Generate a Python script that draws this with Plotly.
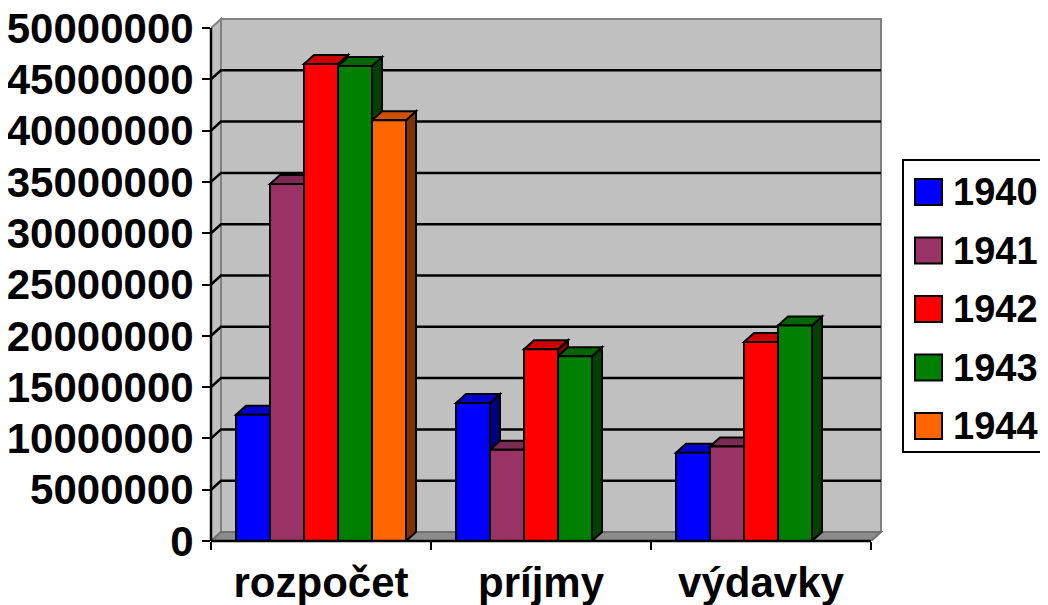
import plotly.graph_objects as go

# ---------------- data ----------------
categories = ["rozpočet", "príjmy", "výdavky"]
series_names = ["1940", "1941", "1942", "1943", "1944"]
v1940 = [12300000, 13450000, 8600000]
v1941 = [34800000, 8900000, 9200000]
v1942 = [46500000, 18700000, 19400000]
v1943 = [46300000, 18000000, 21000000]
v1944 = [41000000, None, None]
ytick_vals = [0, 5000000, 10000000, 15000000, 20000000, 25000000,
              30000000, 35000000, 40000000, 45000000, 50000000]
ytick_text = [str(v) for v in ytick_vals]

series_values = [v1940, v1941, v1942, v1943, v1944]

# ---------------- style ----------------
front_colors = ["#0000FF", "#993366", "#FF0000", "#008000", "#FF6600"]
top_colors = ["#0000CC", "#7A2952", "#CC0000", "#006600", "#CC5200"]
side_colors = ["#000080", "#4D1933", "#800000", "#004000", "#803300"]
FONT = "Liberation Sans, Arial, sans-serif"
FSIZE = 42
LEG_FSIZE = 38

OFF = 8             # page body margin
W, H = 1048 - OFF, 605 - OFF
L_PX = 211 - OFF          # front y-axis pixel x (figure coords)
BOTTOM_PX = 541 - OFF     # front x-axis pixel y (figure coords)
CAT_PX = 220        # pixels per category
YSPAN_PX = 513      # pixels for 0..50M
DX_PX, DY_PX = 10, 9   # 3D depth offset
PAD = 2

ymax_front = ytick_vals[-1]
ypx_per = YSPAN_PX / ymax_front
dxc = DX_PX / CAT_PX
dyv = DY_PX / ypx_per

x_range = [-0.5, len(categories) - 0.5 + (DX_PX + PAD) / CAT_PX]
y_range = [0, ymax_front + (DY_PX + PAD) / ypx_per]
plot_w = len(categories) * CAT_PX + DX_PX + PAD
plot_h = YSPAN_PX + DY_PX + PAD
margin_l = L_PX
margin_r = W - L_PX - plot_w
margin_b = H - BOTTOM_PX
margin_t = H - margin_b - plot_h

n = len(series_names)
bar_px = 34
bargap = 1 - n * bar_px / CAT_PX
bw = (1 - bargap) / n


def px2paper_x(px):
    # px given in screen (reference) pixels
    return (px - OFF - L_PX) / plot_w


def py2paper_y(py):
    return (BOTTOM_PX - (py - OFF)) / plot_h


def poly(pts):
    return "M " + " L ".join(f"{x},{y}" for x, y in pts) + " Z"


fig = go.Figure()
for k in range(n):
    fig.add_trace(go.Bar(
        x=list(range(len(categories))), y=series_values[k], name=series_names[k],
        marker=dict(color=front_colors[k], line=dict(color="black", width=2)),
        showlegend=False, hoverinfo="skip",
    ))

shapes = []
x0, x1 = -0.5, len(categories) - 0.5
# back wall
shapes.append(dict(type="path", xref="x", yref="y", layer="below",
                   path=poly([(x0 + dxc, dyv), (x1 + dxc, dyv),
                              (x1 + dxc, ymax_front + dyv), (x0 + dxc, ymax_front + dyv)]),
                   fillcolor="#C0C0C0", line=dict(color="#808080", width=2)))
# left wall
shapes.append(dict(type="path", xref="x", yref="y", layer="below",
                   path=poly([(x0, 0), (x0 + dxc, dyv), (x0 + dxc, ymax_front + dyv),
                              (x0, ymax_front)]),
                   fillcolor="#C0C0C0", line=dict(color="#808080", width=2)))
# floor
shapes.append(dict(type="path", xref="x", yref="y", layer="below",
                   path=poly([(x0, 0), (x1, 0), (x1 + dxc, dyv), (x0 + dxc, dyv)]),
                   fillcolor="#8C8C8C", line=dict(color="#707070", width=2)))
# gridlines on walls
for v in ytick_vals[1:-1]:
    shapes.append(dict(type="path", xref="x", yref="y", layer="below",
                       path=f"M {x0},{v} L {x0 + dxc},{v + dyv} L {x1 + dxc},{v + dyv}",
                       line=dict(color="black", width=2.5)))
# 3D faces of bars
for i in range(len(categories)):
    for k in range(n):
        h = series_values[k][i]
        if h is None:
            continue
        bl = i - 0.5 + bargap / 2 + k * bw
        br = bl + bw
        shapes.append(dict(type="path", xref="x", yref="y", layer="below",
                           path=poly([(br, 0), (br + dxc, dyv), (br + dxc, h + dyv), (br, h)]),
                           fillcolor=side_colors[k], line=dict(color="black", width=2)))
        shapes.append(dict(type="path", xref="x", yref="y", layer="below",
                           path=poly([(bl, h), (br, h), (br + dxc, h + dyv), (bl + dxc, h + dyv)]),
                           fillcolor=top_colors[k], line=dict(color="black", width=2)))

# front axis lines
top_front_paper = ymax_front * ypx_per / plot_h
right_front_paper = (len(categories) * CAT_PX) / plot_w
shapes.append(dict(type="line", xref="paper", yref="paper", layer="above",
                   x0=0, x1=0, y0=0, y1=top_front_paper, line=dict(color="black", width=2.5)))
shapes.append(dict(type="line", xref="paper", yref="paper", layer="above",
                   x0=0, x1=right_front_paper, y0=0, y1=0, line=dict(color="black", width=2.5)))

# manual legend
annotations = []
shapes.append(dict(type="rect", xref="paper", yref="paper", layer="above",
                   x0=px2paper_x(903), x1=px2paper_x(1043),
                   y0=py2paper_y(160), y1=py2paper_y(452),
                   line=dict(color="black", width=2), fillcolor="rgba(0,0,0,0)"))
for k in range(n):
    cy = 192 + 58.5 * k
    shapes.append(dict(type="rect", xref="paper", yref="paper", layer="above",
                       x0=px2paper_x(915), x1=px2paper_x(942),
                       y0=py2paper_y(cy - 13), y1=py2paper_y(cy + 13),
                       fillcolor=front_colors[k], line=dict(color="black", width=2)))
    annotations.append(dict(xref="paper", yref="paper", x=px2paper_x(951), y=py2paper_y(cy),
                            text=series_names[k], showarrow=False, xanchor="left",
                            yanchor="middle",
                            font=dict(family=FONT, size=LEG_FSIZE, color="black", weight="bold")))

fig.update_layout(
    width=W, height=H,
    margin=dict(l=margin_l, r=margin_r, t=margin_t, b=margin_b, pad=0, autoexpand=False),
    paper_bgcolor="white", plot_bgcolor="rgba(0,0,0,0)",
    barmode="group", bargap=bargap, bargroupgap=0,
    showlegend=False,
    shapes=shapes, annotations=annotations,
    xaxis=dict(range=x_range, tickmode="array", tickvals=list(range(len(categories))),
               ticktext=categories, ticks="outside", ticklen=5, tickcolor="rgba(0,0,0,0)",
               showgrid=False, zeroline=False, showline=False, automargin=False,
               ticklabeloverflow="allow",
               tickfont=dict(family=FONT, size=FSIZE, color="black", weight="bold"),
               minor=dict(tickmode="array", tickvals=[-0.5, 0.5, 1.5, 2.5], ticks="outside",
                          ticklen=8, tickwidth=2, tickcolor="black", showgrid=False)),
    yaxis=dict(range=y_range, tickmode="array", tickvals=ytick_vals, ticktext=ytick_text,
               ticks="outside", ticklen=8, tickwidth=2, tickcolor="black",
               showgrid=False, zeroline=False, showline=False, automargin=False,
               ticklabeloverflow="allow",
               tickfont=dict(family=FONT, size=FSIZE, color="black", weight="bold")),
)

fig.write_html("out.html")
